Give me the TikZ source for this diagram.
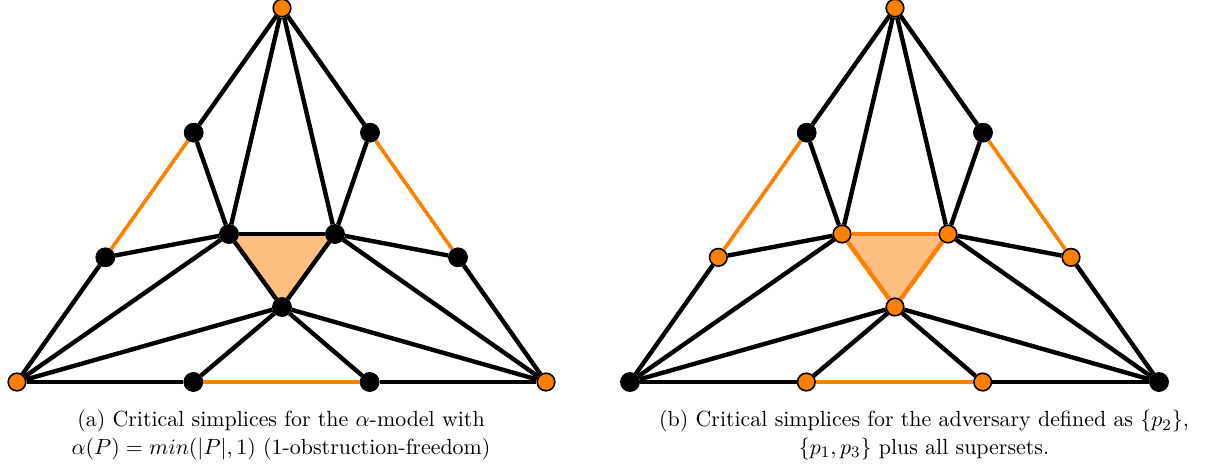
\documentclass[tikz,border=0pt]{standalone}
\usepackage{amsmath}
\usepackage{tikz}
\usetikzlibrary{calc,backgrounds}
\definecolor{corange}{RGB}{255,128,0}
\tikzset{
    vtx/.style = {
        draw,
        shape=circle,
        fill=black,
        inner sep=0pt,
        minimum size=9.5pt
    },
    ovtx/.style = {
        draw=black,
        shape=circle,
        fill=corange,
        line width=0.8pt,
        inner sep=0pt,
        minimum size=8.8pt
    },
    edge/.style = {
        draw,
        line width=2.2pt
    },
    oedge/.style = {
        draw=corange,
        line width=1.8pt
    },
    simplex/.style = {
        fill=corange!50
    },
    caption/.style = {
        align=center,
        font=\fontsize{10.95}{13.6}\selectfont
    },
}

\begin{document}
\begin{tikzpicture}[x=0.5pt,y=-0.5pt]
        \useasboundingbox (0,0) rectangle (1211,473);

        % (a) alpha-model
        \node[ovtx] (aT) at (282,8) {};
        \node[ovtx] (aL) at (17,382) {};
        \node[ovtx] (aR) at (546,382) {};
        \node[vtx] (aLu) at ($(aT)!1/3!(aL)$) {};
        \node[vtx] (aLd) at ($(aT)!2/3!(aL)$) {};
        \node[vtx] (aRu) at ($(aT)!1/3!(aR)$) {};
        \node[vtx] (aRd) at ($(aT)!2/3!(aR)$) {};
        \node[vtx] (aBl) at ($(aL)!1/3!(aR)$) {};
        \node[vtx] (aBr) at ($(aL)!2/3!(aR)$) {};
        \node[vtx] (aI1) at (229,234) {};
        \node[vtx] (aI2) at (335,234) {};
        \node[vtx] (aI3) at (282,307) {};

        \begin{scope}[on background layer]
            \path[simplex] (aI1.center) -- (aI2.center) -- (aI3.center) -- cycle;
        \end{scope}

        \path[edge] (aT) -- (aLu);
        \path[edge] (aT) -- (aRu);
        \path[edge] (aT) -- (aI1);
        \path[edge] (aT) -- (aI2);
        \path[oedge] (aLu) -- (aLd);
        \path[oedge] (aRu) -- (aRd);
        \path[edge] (aLu) -- (aI1);
        \path[edge] (aRu) -- (aI2);
        \path[edge] (aLd) -- (aI1);
        \path[edge] (aRd) -- (aI2);
        \path[edge] (aLd) -- (aL);
        \path[edge] (aRd) -- (aR);
        \path[edge] (aI1) -- (aL);
        \path[edge] (aI2) -- (aR);
        \path[edge] (aI1) -- (aI2);
        \path[edge] (aI1) -- (aI3);
        \path[edge] (aI2) -- (aI3);
        \path[edge] (aI3) -- (aL);
        \path[edge] (aI3) -- (aR);
        \path[edge] (aI3) -- (aBl);
        \path[edge] (aI3) -- (aBr);
        \path[edge] (aL) -- (aBl);
        \path[oedge] (aBl) -- (aBr);
        \path[edge] (aBr) -- (aR);

        % (b) adversary
        \node[vtx] (bL) at (630,382) {};
        \node[vtx] (bR) at (1159,382) {};
        \node[ovtx] (bT) at (895,8) {};
        \node[vtx] (bLu) at ($(bT)!1/3!(bL)$) {};
        \node[ovtx] (bLd) at ($(bT)!2/3!(bL)$) {};
        \node[vtx] (bRu) at ($(bT)!1/3!(bR)$) {};
        \node[ovtx] (bRd) at ($(bT)!2/3!(bR)$) {};
        \node[ovtx] (bBl) at ($(bL)!1/3!(bR)$) {};
        \node[ovtx] (bBr) at ($(bL)!2/3!(bR)$) {};
        \node[ovtx] (bI1) at (842,234) {};
        \node[ovtx] (bI2) at (948,234) {};
        \node[ovtx] (bI3) at (895,307) {};

        \begin{scope}[on background layer]
            \path[simplex] (bI1.center) -- (bI2.center) -- (bI3.center) -- cycle;
        \end{scope}

        \path[edge] (bT) -- (bLu);
        \path[edge] (bT) -- (bRu);
        \path[edge] (bT) -- (bI1);
        \path[edge] (bT) -- (bI2);
        \path[oedge] (bLu) -- (bLd);
        \path[oedge] (bRu) -- (bRd);
        \path[edge] (bLu) -- (bI1);
        \path[edge] (bRu) -- (bI2);
        \path[edge] (bLd) -- (bI1);
        \path[edge] (bRd) -- (bI2);
        \path[edge] (bLd) -- (bL);
        \path[edge] (bRd) -- (bR);
        \path[edge] (bI1) -- (bL);
        \path[edge] (bI2) -- (bR);
        \path[oedge, line width=2.2pt] (bI1) -- (bI2);
        \path[oedge, line width=2.2pt] (bI1) -- (bI3);
        \path[oedge, line width=2.2pt] (bI2) -- (bI3);
        \path[edge] (bI3) -- (bL);
        \path[edge] (bI3) -- (bR);
        \path[edge] (bI3) -- (bBl);
        \path[edge] (bI3) -- (bBr);
        \path[edge] (bL) -- (bBl);
        \path[oedge] (bBl) -- (bBr);
        \path[edge] (bBr) -- (bR);

        % captions
        \node[caption] (capa) at (281,435) {(a) Critical simplices for the $\alpha$-model with\\
            $\alpha(P) = min(|P|, 1)$ (1-obstruction-freedom)};
        \node[caption] (capb) at (924,435) {(b) Critical simplices for the adversary defined as $\{p_2\}$,\\
            $\{p_1, p_3\}$ plus all supersets.};
\end{tikzpicture}
\end{document}
